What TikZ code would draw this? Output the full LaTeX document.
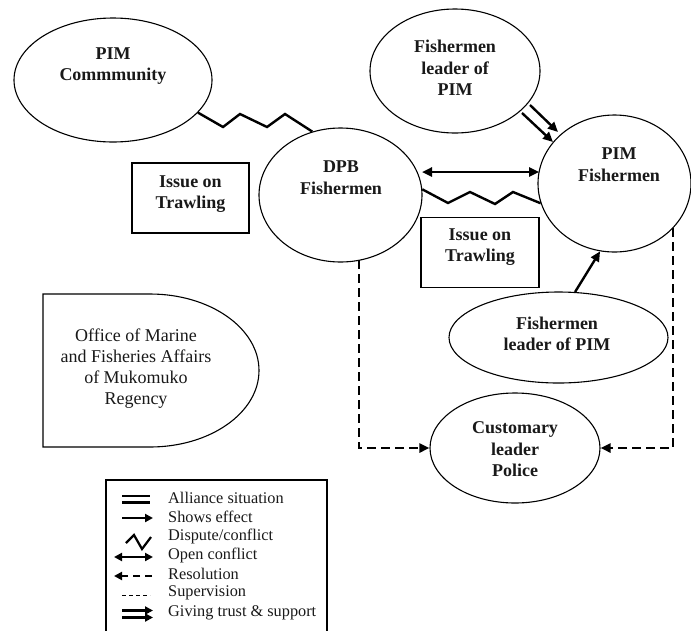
\documentclass[tikz,border=0pt]{standalone}
\usepackage{fontspec}
\setmainfont{Liberation Serif}
\usetikzlibrary{shapes.geometric,arrows.meta,calc}
\begin{document}
\begin{tikzpicture}[x=1pt,y=-1pt,
  ell/.style={draw, ellipse, line width=1.1pt, inner sep=0pt},
  boxn/.style={draw, rectangle, line width=1.1pt, inner sep=0pt},
  bt/.style={font=\fontsize{18}{21.5}\selectfont\bfseries, align=center, inner sep=0pt, text=black!90},
  rt/.style={font=\fontsize{18}{21}\selectfont, align=center, inner sep=0pt, text=black!90},
  lt/.style={font=\fontsize{16.3}{19}\selectfont, anchor=west, inner sep=0pt, text=black!90},
  conn/.style={line width=2.4pt, line join=miter},
  tip/.tip={Triangle[length=10pt,width=9pt]},
  stip/.tip={Triangle[length=8pt,width=8pt]},
  arr/.style={conn, -tip},
  darr/.style={conn, line width=2.6pt, dash pattern=on 9pt off 5pt, -tip},
]
\useasboundingbox (0,0) rectangle (691,630);
\clip (0,0) rectangle (691,630);

% nodes
\node[ell, minimum width=198pt, minimum height=124pt] (pimc) at (113,80) {};
\node[bt] (pimct) at (113,66) {PIM\\Commmunity};

\node[ell, minimum width=170pt, minimum height=124pt] (flt) at (455,71) {};
\node[bt] (fltt) at (455,68) {Fishermen\\leader of\\PIM};

\node[ell, minimum width=163pt, minimum height=134pt] (dpb) at (340.5,195) {};
\node[bt] (dpbt) at (341,177.5) {DPB\\Fishermen};

\node[ell, minimum width=153pt, minimum height=137pt] (pimf) at (614.5,183.5) {};
\node[bt] (pimft) at (619,164.5) {PIM\\Fishermen};

\node[boxn, minimum width=117pt, minimum height=70pt] (iss1) at (190.5,198) {};
\node[bt] (iss1t) at (190.5,194) {Issue on\\Trawling};

\node[boxn, minimum width=118pt, minimum height=70pt] (iss2) at (480,252.5) {};
\node[bt] (iss2t) at (480,247) {Issue on\\Trawling};

\node[ell, minimum width=219pt, minimum height=91pt] (fll) at (558.5,337.5) {};
\node[bt] (fllt) at (557,334) {Fishermen\\leader of PIM};

\node[ell, minimum width=170pt, minimum height=110pt] (cust) at (515,448) {};
\node[bt] (custt) at (515,449.5) {Customary\\leader\\Police};

% office shape
\draw[line width=1.1pt] (150,294) -- (43,294) -- (43,447) -- (150,447)
  arc[start angle=90, end angle=-90, x radius=109, y radius=76.5] -- cycle;
\node[rt] (offt) at (136,369) {Office of Marine\\and Fisheries Affairs\\of Mukomuko\\Regency};

% connectors
\draw[conn] (pimc.-21.4) -- (223,127) -- (240,114) -- (267,127) -- (285,114) -- (dpb.114.3);
\draw[conn] (dpb.4) -- (448,203) -- (470,192) -- (495,204) -- (513,192) -- (pimf.195);

\coordinate (oa1) at (422,172);
\coordinate (oa2) at (539,172);
\draw[conn, tip-tip] (oa1) -- (oa2);

\coordinate (t1a) at (530,105);
\coordinate (t1b) at (558,132);
\coordinate (t2a) at (522,113);
\coordinate (t2b) at (553,142);
\draw[arr] (t1a) -- (t1b);
\draw[arr] (t2a) -- (t2b);

\draw[arr] (fll.70) -- (pimf.258);

\coordinate (dl) at (359,260);
\coordinate (dr) at (673,228);
\draw[darr] (dl) |- (cust.west);
\draw[darr] (dr) |- (cust.east);

% legend
\draw[line width=1.1pt] (106,480) rectangle (327,645);
\node[lt] (l1) at (168,498) {Alliance situation};
\node[lt] (l2) at (168,517) {Shows effect};
\node[lt] (l3) at (168,536) {Dispute/conflict};
\node[lt] (l4) at (168,555) {Open conflict};
\node[lt] (l5) at (168,574) {Resolution};
\node[lt] (l6) at (168,593) {Supervision};
\node[lt] (l7) at (168,613) {Giving trust \& support};

\draw[line width=2.3pt] (122,496) -- (150,496);
\draw[line width=2.3pt] (122,502.5) -- (150,502.5);
\draw[line width=2.2pt, -stip] (122,518) -- (153,518);
\draw[line width=2.2pt] (126,543) -- (134,535) -- (142,549) -- (151,537);
\draw[line width=2.2pt, stip-stip] (114,557) -- (153,557);
\draw[line width=2.2pt, dash pattern=on 7pt off 5pt, -stip] (152,576) -- (114,576);
\draw[line width=1pt, dash pattern=on 4pt off 3pt] (122,595) -- (150,595);
\draw[line width=2.2pt, -stip] (122,610.5) -- (153,610.5);
\draw[line width=2.2pt, -stip] (122,617.5) -- (153,617.5);
\end{tikzpicture}
\end{document}
